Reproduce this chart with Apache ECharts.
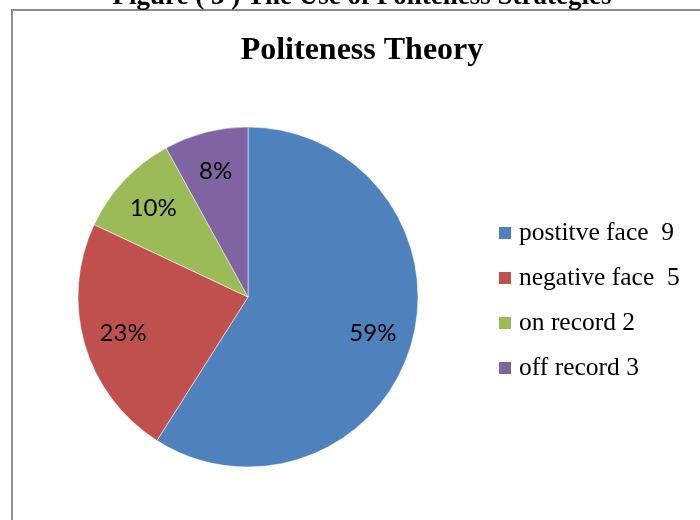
<!DOCTYPE html>
<html>
<head>
<meta charset="utf-8">
<script src="https://cdn.jsdelivr.net/npm/echarts@6/dist/echarts.min.js"></script>
<style>html,body{margin:0;padding:0;background:#fff}#c{width:700px;height:520px}</style>
</head>
<body>
<div id="c"></div>
<script>
const categories = ['postitve face  9', 'negative face  5', 'on record 2', 'off record 3'];
const percents = [59, 23, 10, 8];
const colors = ['#4f81bd', '#c0504d', '#9bbb59', '#8064a2'];

const chart = echarts.init(document.getElementById('c'));
const data = categories.map((n, i) => ({ name: n, value: percents[i] }));
chart.setOption({
  animation: false,
  color: colors,
  graphic: [
    { type: 'rect', shape: { x: 12, y: 10, width: 700, height: 530 }, style: { fill: 'none', stroke: '#8e8e8e', lineWidth: 2 }, silent: true },
    { type: 'text', x: 362, y: 11, style: { text: 'Figure ( 3 ) The Use of Politeness Strategies', font: 'bold 27px "Liberation Serif"', fill: '#000', textAlign: 'center', textVerticalAlign: 'bottom' }, silent: true }
  ],
  title: {
    text: 'Politeness Theory', left: 357, textAlign: 'center', top: 30,
    textStyle: { fontFamily: 'Liberation Serif', fontWeight: 'bold', fontSize: 32, color: '#000' }
  },
  legend: {
    orient: 'vertical', left: 497, top: 220, padding: 0, itemWidth: 14, itemHeight: 14, itemGap: 19,
    icon: 'rect', data: categories,
    textStyle: { fontFamily: 'Liberation Serif', fontSize: 25.5, color: '#000', padding: [0, 0, 0, 2] }
  },
  series: [
    {
      type: 'pie', center: [248, 297], radius: [0, 170], startAngle: 90, clockwise: true,
      data: data, label: { show: false }, labelLine: { show: false },
      itemStyle: { borderColor: '#fff', borderWidth: 0.5 }, emphasis: { disabled: true }
    },
    {
      type: 'pie', center: [248, 297], radius: [0, 254], startAngle: 90, clockwise: true, silent: true,
      data: data, itemStyle: { color: 'rgba(0,0,0,0)' }, emphasis: { disabled: true },
      label: { show: true, position: 'inside', formatter: '{c}%', fontFamily: 'Lato', fontSize: 24, color: '#000' },
      labelLine: { show: false }, z: 3
    }
  ]
});
</script>
</body>
</html>
